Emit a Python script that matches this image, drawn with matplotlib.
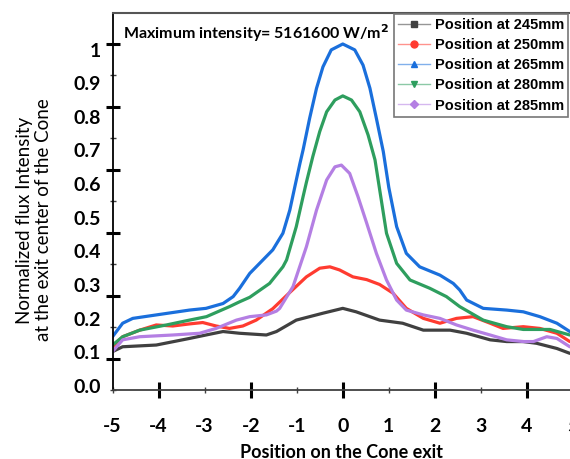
import numpy as np
import matplotlib
matplotlib.use("Agg")
import matplotlib.pyplot as plt
from matplotlib.lines import Line2D

# datos (posicion, intensidad normalizada)
x_245 = [-5, -4.78, -4.05, -3.33, -2.97, -2.6, -2.24, -1.66, -1.44, -1.01, -0.72, -0.43, 0.0,
         0.29, 0.8, 1.3, 1.75, 2.33, 2.69, 3.2, 3.56, 3.92, 4.21, 4.65, 4.93]
y_245 = [0.111, 0.125, 0.13, 0.149, 0.159, 0.169, 0.164, 0.159, 0.169, 0.202, 0.212, 0.222, 0.236,
         0.226, 0.202, 0.193, 0.173, 0.173, 0.164, 0.145, 0.14, 0.14, 0.135, 0.12, 0.106]

x_250 = [-5, -4.78, -4.41, -4.05, -3.69, -3.33, -3.04, -2.75, -2.46, -2.17, -1.88, -1.52,
         -1.15, -0.79, -0.5, -0.28, -0.07, 0.22, 0.52, 0.8, 1.09, 1.38, 1.75, 2.11,
         2.47, 2.83, 3.2, 3.48, 3.92, 4.28, 4.65, 4.93]
y_250 = [0.125, 0.154, 0.173, 0.188, 0.185, 0.191, 0.195, 0.185, 0.178, 0.185, 0.202, 0.235,
         0.282, 0.327, 0.352, 0.356, 0.347, 0.327, 0.319, 0.305, 0.28, 0.236, 0.207, 0.193,
         0.207, 0.212, 0.193, 0.178, 0.183, 0.178, 0.164, 0.14]

x_265 = [-5, -4.78, -4.56, -4.05, -3.33, -2.97, -2.6, -2.38, -2.24, -2.02, -1.88, -1.52,
         -1.3, -1.15, -1.04, -0.93, -0.86, -0.72, -0.57, -0.43, -0.25, 0.0, 0.26, 0.44,
         0.59, 0.73, 0.88, 1.0, 1.17, 1.38, 1.67, 2.11, 2.4, 2.54, 2.69, 3.05, 3.56,
         3.92, 4.28, 4.65, 4.93]
y_265 = [0.154, 0.193, 0.207, 0.217, 0.231, 0.236, 0.25, 0.27, 0.294, 0.337, 0.356, 0.405,
         0.453, 0.52, 0.588, 0.655, 0.695, 0.785, 0.872, 0.934, 0.983, 1.0, 0.983, 0.939,
         0.872, 0.785, 0.689, 0.585, 0.472, 0.395, 0.356, 0.332, 0.308, 0.289, 0.26, 0.236, 0.231,
         0.226, 0.212, 0.193, 0.169]

x_280 = [-5, -4.78, -4.41, -3.83, -3.33, -2.96, -2.46, -2.24, -2.02, -1.59, -1.3, -1.22,
         -1.01, -0.86, -0.79, -0.65, -0.5, -0.35, -0.17, 0.0, 0.19, 0.37, 0.55, 0.7,
         0.8, 0.95, 1.17, 1.46, 1.89, 2.25, 2.54, 3.05, 3.56, 3.92, 4.5, 4.93]
y_280 = [0.13, 0.154, 0.173, 0.188, 0.202, 0.212, 0.241, 0.255, 0.268, 0.308, 0.356, 0.376,
         0.472, 0.56, 0.6, 0.675, 0.747, 0.804, 0.838, 0.85, 0.838, 0.804, 0.737, 0.665,
         0.58, 0.453, 0.366, 0.318, 0.294, 0.27, 0.241, 0.202, 0.183, 0.175, 0.175, 0.159]

x_285 = [-5, -4.78, -4.41, -3.69, -3.11, -2.75, -2.31, -2.02, -1.66, -1.44, -1.37, -1.08,
         -0.79, -0.57, -0.35, -0.17, -0.03, 0.15, 0.33, 0.52, 0.73, 0.95, 1.17, 1.38,
         1.75, 2.11, 2.47, 2.83, 3.2, 3.56, 3.92, 4.14, 4.43, 4.65, 4.93]
y_285 = [0.111, 0.145, 0.154, 0.159, 0.164, 0.178, 0.202, 0.212, 0.217, 0.228, 0.236, 0.299,
         0.414, 0.52, 0.607, 0.645, 0.65, 0.626, 0.559, 0.482, 0.395, 0.318, 0.26, 0.231,
         0.217, 0.207, 0.188, 0.173, 0.159, 0.145, 0.14, 0.14, 0.154, 0.149, 0.125]

series = [
    ("Position at 245mm", x_245, y_245, "#404040", "s"),
    ("Position at 250mm", x_250, y_250, "#ff3b30", "o"),
    ("Position at 265mm", x_265, y_265, "#1a6fdc", "^"),
    ("Position at 280mm", x_280, y_280, "#2e9e5e", "v"),
    ("Position at 285mm", x_285, y_285, "#b47fe3", "D"),
]

y_labels = ["0.0", "0.1", "0.2", "0.3", "0.4", "0.5", "0.6", "0.7", "0.8", "0.9", "1"]

fig = plt.figure(figsize=(5.7, 4.59), dpi=100)
ax = fig.add_axes([0.1974, 0.1503, 0.8079, 0.8224])

for nombre, xs, ys, color, m in series:
    ax.plot(xs, ys, color=color, lw=2.3, solid_capstyle="round", solid_joinstyle="round")

ax.set_xlim(-5, 5)
ax.set_ylim(0, 12 / 11)

for s in ["top", "right"]:
    ax.spines[s].set_color("#555555")
    ax.spines[s].set_linewidth(1.5)
ax.spines["left"].set_color("black")
ax.spines["left"].set_linewidth(1.3)
ax.spines["bottom"].set_color("#404040")
ax.spines["bottom"].set_linewidth(1.3)

# eje x: marcas gruesas en pares, finas en impares
ax.set_xticks([-4, -2, 0, 2, 4], ["-4", "-2", "0", "2", "4"])
ax.set_xticks([-5, -3, -1, 1, 3, 5], ["-5", "-3", "-1", "1", "3", "5"], minor=True)
ax.tick_params(axis="x", which="major", direction="inout", length=11, width=2.2,
               color="black", pad=14.8)
ax.tick_params(axis="x", which="minor", direction="inout", length=4.5, width=1,
               color="#404040", pad=18)
for lbl in ax.get_xticklabels(which="both"):
    lbl.set_fontfamily("Lato")
    lbl.set_fontweight("bold")
    lbl.set_fontsize(14)

# eje y: etiquetas sin marca
label_pos = np.arange(11) * 0.0972 + 0.012
ax.set_yticks(label_pos, y_labels)
ax.tick_params(axis="y", which="major", length=0, pad=8.5)
for lbl in ax.get_yticklabels():
    lbl.set_fontfamily("Lato")
    lbl.set_fontweight("bold")
    lbl.set_fontsize(14)

# marcas del eje y en un eje secundario
sec = ax.secondary_yaxis("left")
sec.spines["left"].set_visible(False)
sec.set_yticks([k / 11 for k in (1, 3, 5, 7, 9, 11)], [""] * 6)
sec.set_yticks([k / 11 for k in (0, 2, 4, 6, 8, 10)], [""] * 6, minor=True)
sec.tick_params(which="major", direction="inout", length=9.5, width=2.2, color="black")
sec.tick_params(which="minor", direction="inout", length=4, width=1, color="#404040")

ax.text(0.023, 0.975, "Maximum intensity= 5161600 W/m$^\\mathbf{2}$", transform=ax.transAxes,
        ha="left", va="top", fontsize=11.5, fontweight="bold", family="Lato")

handles = []
for _, _, _, c, m in series:
    handles.append(Line2D([0], [0], color=matplotlib.colors.to_rgba(c, 0.55), lw=1,
                          marker=m, markersize=5 if m != "D" else 4.5,
                          markerfacecolor=c, markeredgecolor=c))
leg = ax.legend(handles, [s[0] for s in series], loc="upper right",
                bbox_to_anchor=(0.99, 0.997), borderaxespad=0, fancybox=False,
                framealpha=1, edgecolor="#777777", handlelength=2.2, handletextpad=0.3,
                labelspacing=0.42, borderpad=0.3,
                prop={"family": "Liberation Sans", "weight": "bold", "size": 10.5})
leg.get_frame().set_linewidth(1.2)

fig.text(34 / 570, 1 - 220 / 459, "Normalized flux Intensity\nat the exit center of the Cone",
         rotation=90, ha="center", va="center", multialignment="center",
         fontsize=13.5, family="Lato", linespacing=1.1)
fig.text(342 / 570, 1 - 452 / 459, "Position on the Cone exit", ha="center", va="center",
         fontsize=13, fontweight="bold", family="Lato")

fig.savefig("out.png", dpi=100)
